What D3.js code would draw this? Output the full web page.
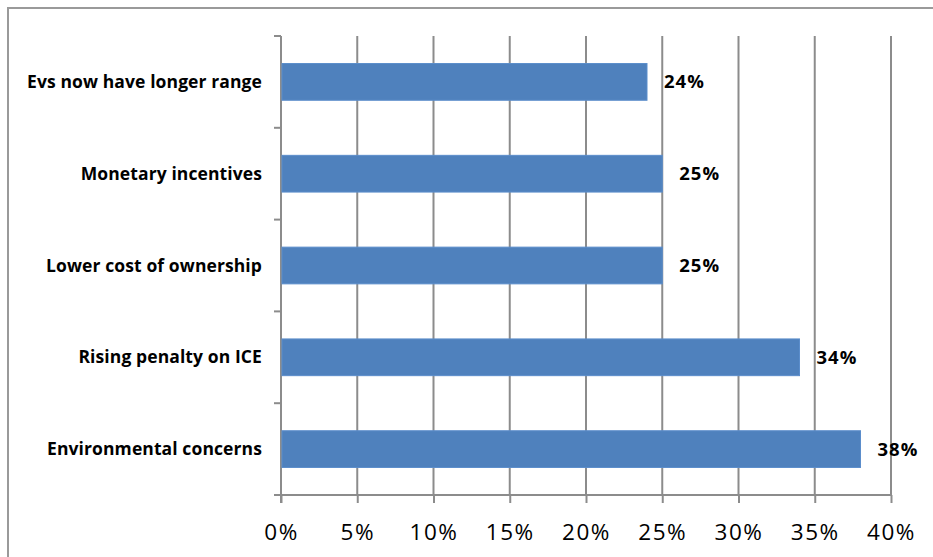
<!DOCTYPE html>
<html>
<head>
<script src="https://cdn.jsdelivr.net/npm/d3@7"></script>
<style>
    body { margin: 0; background: #fff; }
    svg text { font-family: 'Open Sans', sans-serif; }
</style>
</head>
<body>
<div id="chart"></div>
<script>
    // data
    var categories = ["Evs now have longer range", "Monetary incentives", "Lower cost of ownership", "Rising penalty on ICE", "Environmental concerns"];
    var values = [24, 25, 25, 34, 38];
    var ticks = [0, 5, 10, 15, 20, 25, 30, 35, 40];

    var width = 933, height = 557;
    var margin = {left: 281, top: 36, right: 42, bottom: 62};

    var svg = d3.select("#chart").append("svg")
        .attr("width", width)
        .attr("height", height);

    // outer chart border
    svg.append("rect")
        .attr("x", 8).attr("y", 8)
        .attr("width", 940).attr("height", 570)
        .attr("fill", "none")
        .attr("stroke", "#9a9a9a")
        .attr("stroke-width", 2);

    var xs = d3.scaleLinear().domain([0, 40]).range([margin.left, width - margin.right]);
    var ys = d3.scaleBand().domain(categories).range([margin.top, height - margin.bottom]).paddingInner(0.6).paddingOuter(0.3);
    var yTop = margin.top, yBot = height - margin.bottom;

    // vertical gridlines
    svg.append("g").selectAll("line")
        .data(ticks.slice(1))
        .enter().append("line")
        .attr("x1", d => xs(d)).attr("x2", d => xs(d))
        .attr("y1", yTop).attr("y2", yBot)
        .attr("stroke", "#8c8c8c")
        .attr("stroke-width", 2);

    // x axis
    var xAxis = svg.append("g")
        .attr("transform", "translate(0," + yBot + ")")
        .call(d3.axisBottom(xs).tickValues(ticks).tickSize(8).tickSizeOuter(0).tickPadding(21).tickFormat(d => d + "%"));
    xAxis.select(".domain").attr("stroke", "#8c8c8c").attr("stroke-width", 2).attr("d", "M" + (margin.left - 7) + ",0H" + xs(40));
    xAxis.selectAll(".tick line").attr("stroke", "#8c8c8c").attr("stroke-width", 2);
    xAxis.selectAll(".tick text")
        .attr("font-size", 22.5)
        .attr("letter-spacing", 1.5)
        .attr("fill", "#000")
        .attr("font-family", "'Open Sans', sans-serif");

    // y axis with ticks between categories
    var yAxis = svg.append("g");
    yAxis.append("line")
        .attr("x1", margin.left).attr("x2", margin.left)
        .attr("y1", yTop).attr("y2", yBot + 8)
        .attr("stroke", "#8c8c8c").attr("stroke-width", 2);
    yAxis.selectAll(".ytick")
        .data(d3.range(categories.length + 1))
        .enter().append("line")
        .attr("class", "ytick")
        .attr("x1", margin.left - 7).attr("x2", margin.left)
        .attr("y1", i => yTop + (yBot - yTop) * i / categories.length)
        .attr("y2", i => yTop + (yBot - yTop) * i / categories.length)
        .attr("stroke", "#8c8c8c").attr("stroke-width", 2);

    yAxis.selectAll(".ylab")
        .data(categories)
        .enter().append("text")
        .attr("class", "ylab")
        .attr("x", margin.left - 19)
        .attr("y", d => ys(d) + ys.bandwidth() / 2)
        .attr("dy", "0.35em")
        .attr("text-anchor", "end")
        .attr("font-size", 17.5)
        .attr("letter-spacing", 0.1)
        .attr("font-weight", "bold")
        .attr("fill", "#000")
        .text(d => d);

    // bars
    svg.append("g").selectAll("rect")
        .data(categories)
        .enter().append("rect")
        .attr("x", xs(0) + 1)
        .attr("y", d => ys(d))
        .attr("width", (d, i) => xs(values[i]) - xs(0) - 1)
        .attr("height", ys.bandwidth())
        .attr("fill", "#4f81bd")
        .attr("stroke", "#5b8dcb")
        .attr("stroke-width", 1);

    // value labels
    svg.append("g").selectAll("text")
        .data(categories)
        .enter().append("text")
        .attr("x", (d, i) => xs(values[i]) + 17)
        .attr("y", d => ys(d) + ys.bandwidth() / 2)
        .attr("dy", "0.35em")
        .attr("font-size", 18.5)
        .attr("letter-spacing", 1)
        .attr("font-weight", "bold")
        .attr("fill", "#000")
        .text((d, i) => values[i] + "%");
</script>
</body>
</html>
